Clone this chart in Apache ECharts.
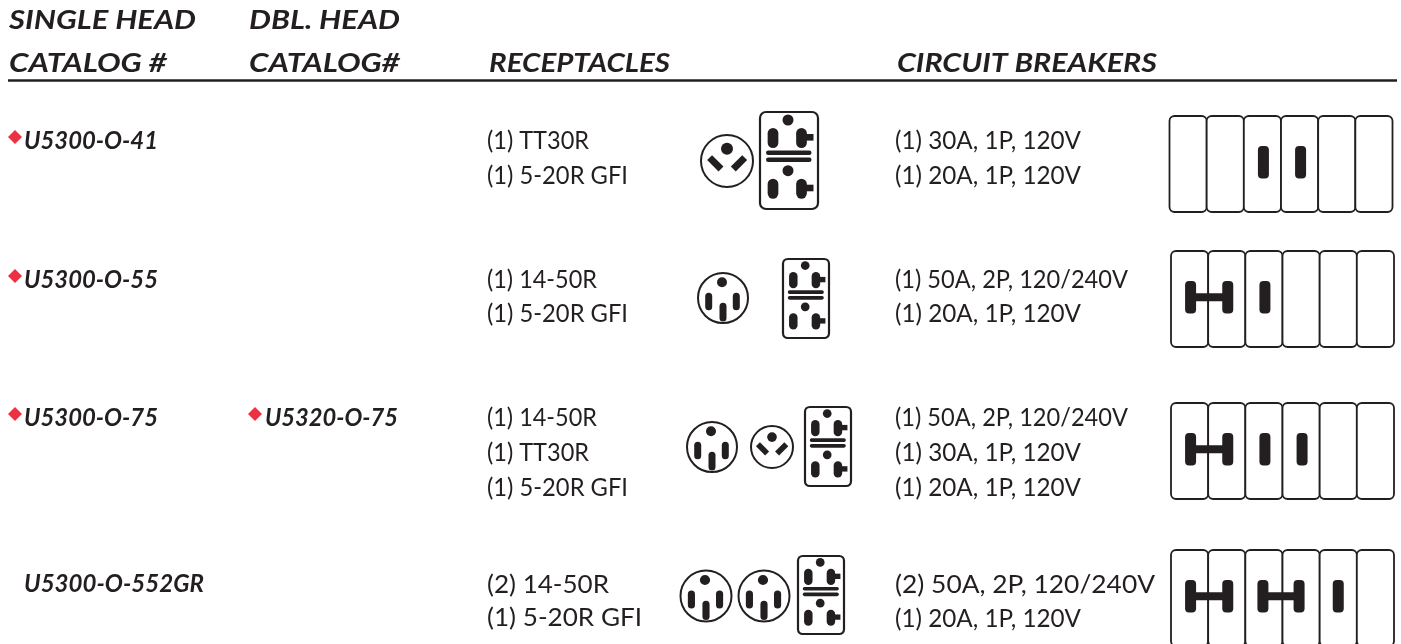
<!DOCTYPE html>
<html>
<head>
<meta charset="utf-8" />
<script src="https://cdn.jsdelivr.net/npm/echarts@6/dist/echarts.min.js"></script>
<style>
  html, body { margin: 0; padding: 0; background: #fff; }
  #main { width: 1401px; height: 644px; }
</style>
</head>
<body>
<div id="main"></div>
<script>
// table content
var headerTop = ["SINGLE HEAD", "DBL. HEAD"];
var headerBottom = ["CATALOG #", "CATALOG#", "RECEPTACLES", "CIRCUIT BREAKERS"];
var singleCatalog = ["U5300-O-41", "U5300-O-55", "U5300-O-75", "U5300-O-552GR"];
var doubleCatalog = ["", "", "U5320-O-75", ""];
var singleMarked = [1, 1, 1, 0];
var doubleMarked = [0, 0, 1, 0];
var receptacles = [
  ["(1) TT30R", "(1) 5-20R GFI"],
  ["(1) 14-50R", "(1) 5-20R GFI"],
  ["(1) 14-50R", "(1) TT30R", "(1) 5-20R GFI"],
  ["(2) 14-50R", "(1) 5-20R GFI"],
];
var breakers = [
  ["(1) 30A, 1P, 120V", "(1) 20A, 1P, 120V"],
  ["(1) 50A, 2P, 120/240V", "(1) 20A, 1P, 120V"],
  ["(1) 50A, 2P, 120/240V", "(1) 30A, 1P, 120V", "(1) 20A, 1P, 120V"],
  ["(2) 50A, 2P, 120/240V", "(1) 20A, 1P, 120V"],
];
// 0 empty slot, 1 single pole, 2 two pole (pairs)
var breakerPoles = [
  [0, 0, 1, 1, 0, 0],
  [2, 2, 1, 0, 0, 0],
  [2, 2, 1, 1, 0, 0],
  [2, 2, 2, 2, 1, 0],
];

// layout, in page pixels
var INK = "#231f20";
var RED = "#ee3142";
var HEAD_STYLE = "italic bold";
var BODY_STYLE = "normal";
var FAMILY = "Lato";
var HEAD_SIZE = 27.5;
var CAT_SIZE = 25;
var BODY_SIZE = 25;
var recBase = [
  [148, 183],
  [287, 321],
  [425, 460, 495],
  [592, 625],
];
var brkBase = [
  [148, 183],
  [287, 321],
  [425, 460, 495],
  [592, 626],
];
var recEnd = [
  [589, 628],
  [597, 628],
  [597, 589, 628],
  [609, 642],
];
var brkEnd = [
  [1081, 1081],
  [1128, 1081],
  [1128, 1081, 1081],
  [1155, 1081],
];
var catBase = [148, 287, 425, 591];
var catEnd = [158, 158, 158, 204];
var circles = [
  [{ t: "tt", x: 727, y: 161, r: 26 }],
  [{ t: "r", x: 723, y: 298, r: 25 }],
  [{ t: "r", x: 712, y: 447, r: 25 }, { t: "tt", x: 772, y: 447, r: 21 }],
  [{ t: "r", x: 706, y: 596, r: 25.5 }, { t: "r", x: 764, y: 596, r: 25.5 }],
];
var duplexBox = [
  [760, 112, 58, 97],
  [783, 259, 46, 79],
  [805, 407, 46, 79],
  [798, 556, 46, 78],
];
var panelBox = [
  [1169.5, 116, 223, 96],
  [1171, 251, 223, 96],
  [1171, 403, 223, 96],
  [1171, 550, 223, 96],
];
// handles of the last panel do not sit quite centred in their slots
var handleNudge = [
  [0, 0, 0, 0, 0, 0],
  [0, 0, 0, 0, 0, 0],
  [0, 0, 0, 0, 0, 0],
  [0, 0, -2, -3, -1, 0],
];

var marks = [];
var measureCtx = document.createElement("canvas").getContext("2d");
// text is stretched sideways so that it ends where it does in the print
function addText(x, base, endX, text, style, size) {
  var font = style + " " + size + "px " + FAMILY;
  measureCtx.font = font;
  marks.push({
    kind: "text",
    x: x,
    y: base - size * 0.79,
    text: text,
    font: font,
    scaleX: (endX - x) / measureCtx.measureText(text).width,
  });
}
addText(9, 28, 196, headerTop[0], HEAD_STYLE, HEAD_SIZE);
addText(249, 28, 400, headerTop[1], HEAD_STYLE, HEAD_SIZE);
addText(9, 71, 167, headerBottom[0], HEAD_STYLE, HEAD_SIZE);
addText(249, 71, 400, headerBottom[1], HEAD_STYLE, HEAD_SIZE);
addText(489, 71, 670, headerBottom[2], HEAD_STYLE, HEAD_SIZE);
addText(897, 71, 1157, headerBottom[3], HEAD_STYLE, HEAD_SIZE);
marks.push({ kind: "rule", x: 8, y: 80.5, x2: 1397 });

singleCatalog.forEach(function (name, i) {
  addText(24, catBase[i], catEnd[i], name, HEAD_STYLE, CAT_SIZE);
  if (singleMarked[i]) marks.push({ kind: "diamond", x: 15, y: catBase[i] - 11 });
  if (doubleCatalog[i]) addText(265, catBase[i], 398, doubleCatalog[i], HEAD_STYLE, CAT_SIZE);
  if (doubleMarked[i]) marks.push({ kind: "diamond", x: 255, y: catBase[i] - 11 });
  receptacles[i].forEach(function (s, j) {
    addText(487, recBase[i][j], recEnd[i][j], s, BODY_STYLE, BODY_SIZE);
  });
  breakers[i].forEach(function (s, j) {
    addText(895, brkBase[i][j], brkEnd[i][j], s, BODY_STYLE, BODY_SIZE);
  });
  circles[i].forEach(function (c) {
    marks.push({ kind: c.t, x: c.x, y: c.y, r: c.r });
  });
  var d = duplexBox[i];
  marks.push({ kind: "duplex", x: d[0], y: d[1], w: d[2], h: d[3] });
  var p = panelBox[i];
  marks.push({ kind: "panel", x: p[0], y: p[1], w: p[2], h: p[3], poles: breakerPoles[i], nudge: handleNudge[i] });
});

function slot(x, y1, y2, w, r) {
  // vertical slot, fully round unless r is given
  return {
    type: "rect",
    shape: { x: x - w / 2, y: y1, width: w, height: y2 - y1, r: r === undefined ? w / 2 : r },
    style: { fill: INK },
  };
}
function ring(x, y, r, lw) {
  return {
    type: "circle",
    shape: { cx: x, cy: y, r: r },
    style: { fill: "#fff", stroke: INK, lineWidth: lw },
  };
}
function dot(x, y, r) {
  return { type: "circle", shape: { cx: x, cy: y, r: r }, style: { fill: INK } };
}

function draw14_50(x, y, r) {
  var k = r / 25;
  return [
    ring(x, y, r, 2),
    dot(x - k, y - 15.7 * k, 5 * k),
    slot(x - 14.3 * k, y - 5.3 * k, y + 12.3 * k, 7 * k),
    slot(x + 13.3 * k, y - 5.3 * k, y + 12.3 * k, 7 * k),
    slot(x, y + 4.7 * k, y + 23.5 * k, 7 * k),
  ];
}
function drawTT30(x, y, r) {
  var k = r / 26;
  function blade(dx, dy, sign) {
    var a = 5.7 * k;
    return {
      type: "line",
      shape: {
        x1: x + dx * k - a,
        y1: y + dy * k - sign * a,
        x2: x + dx * k + a,
        y2: y + dy * k + sign * a,
      },
      style: { stroke: INK, lineWidth: 7 * k, lineCap: "butt" },
    };
  }
  return [
    ring(x, y, r, 2),
    dot(x, y - 12.3 * k, 6 * k),
    blade(-11.7, 2.3, 1),
    blade(12, 2.3, -1),
  ];
}
function drawDuplex(x, y, w, h) {
  var sx = w / 58;
  var sy = h / 97;
  var els = [
    {
      type: "rect",
      shape: { x: x, y: y, width: w, height: h, r: 6 * sx },
      style: { fill: "#fff", stroke: INK, lineWidth: 2.2 },
    },
  ];
  function half(top) {
    var holeY = y + top * sy;
    var y1 = y + (top + 8) * sy;
    var y2 = y + (top + 28) * sy;
    var lx = x + 13 * sx;
    var rx = x + 41.5 * sx;
    var sw = 10.7 * sx;
    els.push(dot(x + 28 * sx, holeY, 5.5 * sx));
    els.push(slot(lx, y1, y2, sw));
    els.push(slot(rx, y1, y2, sw));
    els.push({
      type: "rect",
      shape: { x: rx, y: y + (top + 14) * sy, width: 12 * sx, height: 6.6 * sy },
      style: { fill: INK },
    });
  }
  half(8);
  half(58.7);
  [40.7, 47.7].forEach(function (by) {
    var t = 4.5 * sy;
    els.push({
      type: "rect",
      shape: { x: x + 6 * sx, y: y + by * sy - t / 2, width: 45.5 * sx, height: t, r: t / 2 },
      style: { fill: INK },
    });
  });
  return els;
}
function drawPanel(x, y, w, h, poles, nudge) {
  var cw = w / 6;
  var els = [];
  var i;
  for (i = 0; i < 6; i++) {
    els.push({
      type: "rect",
      shape: { x: x + i * cw, y: y, width: cw, height: h, r: 5 },
      style: { fill: "#fff", stroke: INK, lineWidth: 1.8 },
    });
  }
  var hy1 = y + 30;
  var hy2 = y + 62.5;
  i = 0;
  while (i < 6) {
    var cx = x + (i + 0.5) * cw + 1 + nudge[i];
    if (poles[i] === 1) {
      els.push(slot(cx, hy1, hy2, 11, 4));
      i += 1;
    } else if (poles[i] === 2) {
      var cx2 = x + (i + 1.5) * cw + 1 + nudge[i + 1];
      els.push(slot(cx, hy1, hy2, 11, 4));
      els.push(slot(cx2, hy1, hy2, 11, 4));
      els.push({
        type: "rect",
        shape: { x: cx, y: (hy1 + hy2) / 2 - 4, width: cx2 - cx, height: 8 },
        style: { fill: INK },
      });
      i += 2;
    } else {
      i += 1;
    }
  }
  return els;
}

function renderMark(params, api) {
  var m = marks[params.dataIndex];
  var p = api.coord([m.x, m.y]);
  var x = p[0];
  var y = p[1];
  var children;
  switch (m.kind) {
    case "text":
      children = [
        {
          type: "text",
          x: x,
          y: y,
          scaleX: m.scaleX,
          style: { text: m.text, font: m.font, fill: INK, verticalAlign: "top", align: "left" },
        },
      ];
      break;
    case "rule":
      children = [
        {
          type: "line",
          shape: { x1: x, y1: y, x2: api.coord([m.x2, m.y])[0], y2: y },
          style: { stroke: INK, lineWidth: 2.6 },
        },
      ];
      break;
    case "diamond":
      children = [
        {
          type: "polygon",
          shape: { points: [[x, y - 7], [x + 7, y], [x, y + 7], [x - 7, y]] },
          style: { fill: RED },
        },
      ];
      break;
    case "tt":
      children = drawTT30(x, y, m.r);
      break;
    case "r":
      children = draw14_50(x, y, m.r);
      break;
    case "duplex":
      children = drawDuplex(x, y, m.w, m.h);
      break;
    case "panel":
      children = drawPanel(x, y, m.w, m.h, m.poles, m.nudge);
      break;
  }
  return { type: "group", children: children };
}

var myChart = echarts.init(document.getElementById("main"), null, { renderer: "canvas" });
myChart.setOption({
  animation: false,
  backgroundColor: "#fff",
  tooltip: { show: false },
  grid: { left: 0, right: 0, top: 0, bottom: 0 },
  xAxis: { type: "value", min: 0, max: 1401, show: false },
  yAxis: { type: "value", min: 0, max: 644, inverse: true, show: false },
  series: [
    {
      type: "custom",
      clip: false,
      silent: true,
      coordinateSystem: "cartesian2d",
      data: marks.map(function (m) {
        return [m.x, m.y];
      }),
      renderItem: renderMark,
    },
  ],
});
</script>
</body>
</html>
